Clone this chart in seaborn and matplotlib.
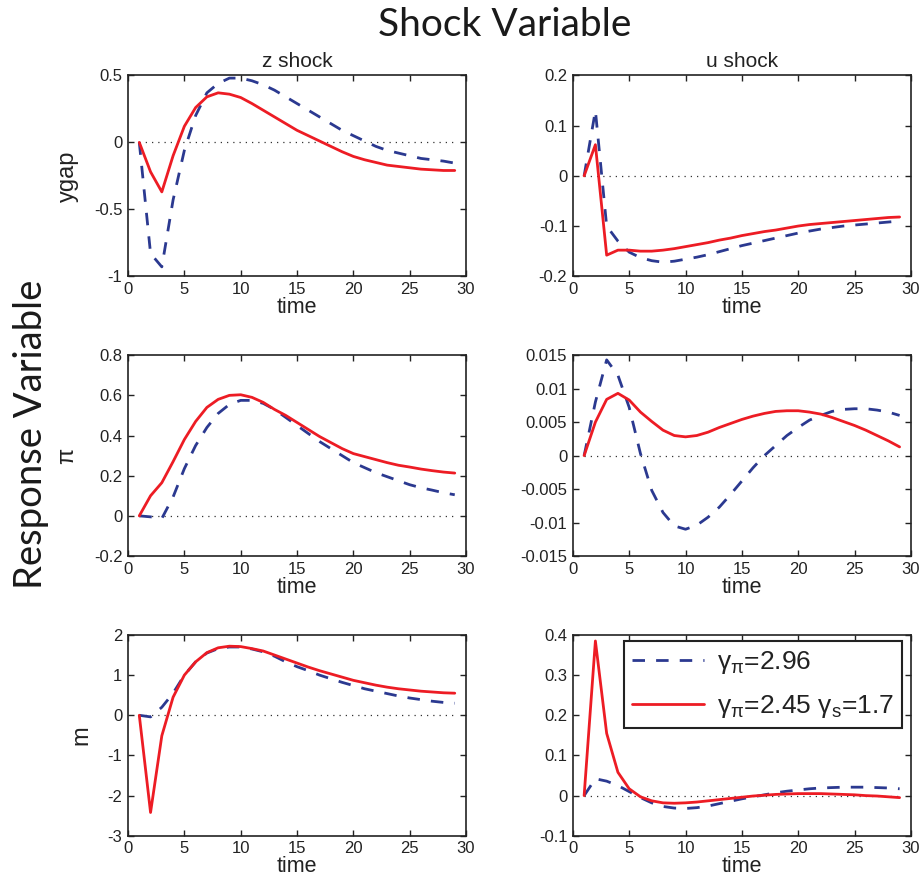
import matplotlib
matplotlib.use('Agg')
import matplotlib.pyplot as plt
import numpy as np
import pandas as pd
import seaborn as sns

time = list(range(1, 30))

# z shock
ygap_z_blue = [0, -0.83, -0.93, -0.43, -0.06, 0.20, 0.37, 0.44, 0.48, 0.48,
               0.46, 0.43, 0.39, 0.34, 0.29, 0.24, 0.19, 0.14, 0.09, 0.05,
               0.01, -0.03, -0.06, -0.08, -0.10, -0.12, -0.13, -0.14, -0.155]
ygap_z_red = [0, -0.22, -0.37, -0.10, 0.12, 0.26, 0.34, 0.37, 0.36, 0.335,
              0.29, 0.24, 0.19, 0.14, 0.09, 0.05, 0.01, -0.03, -0.07, -0.105,
              -0.13, -0.15, -0.17, -0.18, -0.19, -0.20, -0.205, -0.21, -0.21]
pi_z_blue = [0, -0.005, -0.013, 0.094, 0.235, 0.35, 0.44, 0.51, 0.555, 0.575,
             0.575, 0.56, 0.53, 0.49, 0.45, 0.41, 0.37, 0.335, 0.30, 0.265,
             0.24, 0.215, 0.195, 0.175, 0.155, 0.14, 0.128, 0.115, 0.105]
pi_z_red = [0, 0.10, 0.165, 0.27, 0.38, 0.47, 0.54, 0.58, 0.60, 0.603,
            0.59, 0.565, 0.53, 0.50, 0.465, 0.43, 0.395, 0.365, 0.335, 0.31,
            0.295, 0.28, 0.265, 0.252, 0.243, 0.233, 0.225, 0.218, 0.213]
m_z_blue = [0, -0.04, 0.20, 0.55, 1.0, 1.33, 1.55, 1.66, 1.70, 1.70,
            1.65, 1.58, 1.47, 1.33, 1.21, 1.11, 1.0, 0.91, 0.82, 0.74,
            0.66, 0.60, 0.54, 0.48, 0.43, 0.39, 0.35, 0.32, 0.30]
m_z_red = [0, -2.42, -0.51, 0.45, 1.0, 1.33, 1.56, 1.68, 1.72, 1.71,
           1.66, 1.60, 1.50, 1.40, 1.30, 1.20, 1.11, 1.03, 0.95, 0.87,
           0.81, 0.75, 0.70, 0.66, 0.63, 0.60, 0.58, 0.56, 0.55]

# u shock
ygap_u_blue = [0, 0.13, -0.10, -0.13, -0.152, -0.163, -0.169, -0.172, -0.170, -0.166,
               -0.162, -0.157, -0.151, -0.145, -0.139, -0.134, -0.129, -0.124, -0.119, -0.114,
               -0.110, -0.106, -0.103, -0.100, -0.098, -0.096, -0.094, -0.092, -0.090]
ygap_u_red = [0, 0.062, -0.158, -0.148, -0.148, -0.150, -0.150, -0.148, -0.145, -0.141,
              -0.137, -0.133, -0.128, -0.124, -0.119, -0.115, -0.111, -0.108, -0.104, -0.100,
              -0.097, -0.095, -0.093, -0.091, -0.089, -0.087, -0.085, -0.083, -0.082]
pi_u_blue = [0, 0.008, 0.0143, 0.012, 0.0072, 0.0003, -0.0052, -0.0085, -0.0105, -0.011,
             -0.0104, -0.0092, -0.0077, -0.0058, -0.0038, -0.0018, 0.0, 0.0015, 0.003, 0.0042,
             0.0053, 0.006, 0.0066, 0.0069, 0.007, 0.007, 0.0068, 0.0065, 0.006]
pi_u_red = [0, 0.005, 0.0084, 0.0093, 0.0083, 0.0065, 0.0051, 0.0038, 0.003, 0.0028,
            0.003, 0.0035, 0.0042, 0.0048, 0.0054, 0.0059, 0.0063, 0.0066, 0.0067, 0.0067,
            0.0065, 0.0062, 0.0057, 0.0051, 0.0045, 0.0038, 0.003, 0.0022, 0.0013]
m_u_blue = [0, 0.042, 0.036, 0.025, 0.010, -0.005, -0.018, -0.027, -0.031, -0.032,
            -0.030, -0.026, -0.020, -0.014, -0.008, -0.003, 0.002, 0.007, 0.011, 0.014,
            0.017, 0.019, 0.020, 0.021, 0.021, 0.021, 0.020, 0.019, 0.017]
m_u_red = [0, 0.385, 0.155, 0.058, 0.017, -0.003, -0.013, -0.018, -0.019, -0.018,
           -0.016, -0.013, -0.010, -0.007, -0.004, -0.001, 0.001, 0.003, 0.004, 0.005,
           0.005, 0.005, 0.004, 0.003, 0.002, 0.0, -0.001, -0.003, -0.005]

row_labels = ['ygap', 'π', 'm']
col_titles = ['z shock', 'u shock']
series_names = [r'$\gamma_\pi$=2.96', r'$\gamma_\pi$=2.45 $\gamma_s$=1.7']
panels = [[(ygap_z_blue, ygap_z_red), (ygap_u_blue, ygap_u_red)],
          [(pi_z_blue, pi_z_red), (pi_u_blue, pi_u_red)],
          [(m_z_blue, m_z_red), (m_u_blue, m_u_red)]]
yticks = [[[-1, -0.5, 0, 0.5], [-0.2, -0.1, 0, 0.1, 0.2]],
          [[-0.2, 0, 0.2, 0.4, 0.6, 0.8], [-0.015, -0.01, -0.005, 0, 0.005, 0.01, 0.015]],
          [[-3, -2, -1, 0, 1, 2], [-0.1, 0, 0.1, 0.2, 0.3, 0.4]]]
yticklabels = [[['-1', '-0.5', '0', '0.5'], ['-0.2', '-0.1', '0', '0.1', '0.2']],
               [['-0.2', '0', '0.2', '0.4', '0.6', '0.8'],
                ['-0.015', '-0.01', '-0.005', '0', '0.005', '0.01', '0.015']],
               [['-3', '-2', '-1', '0', '1', '2'], ['-0.1', '0', '0.1', '0.2', '0.3', '0.4']]]

BLUE = '#2b3990'
RED = '#ed1c24'

sns.set_theme(style='white')
plt.rcParams['font.family'] = ['Liberation Sans', 'DejaVu Sans']
plt.rcParams['mathtext.default'] = 'regular'
plt.rcParams['axes.edgecolor'] = '#222222'
plt.rcParams['axes.linewidth'] = 1.2
plt.rcParams['text.color'] = '#222222'
plt.rcParams['axes.labelcolor'] = '#222222'

fig = plt.figure(figsize=(9.21, 8.77), dpi=100)

lefts = [0.139, 0.622]
bottoms = [0.685, 0.366, 0.047]
w, h = 0.367, 0.229

for r in range(3):
    for c in range(2):
        ax = fig.add_axes([lefts[c], bottoms[r], w, h])
        blue, red = panels[r][c]
        df = pd.DataFrame({'time': time, 'blue': blue, 'red': red})
        ax.hlines(0, time[0], time[-1], colors='#333333', linestyles=(0, (1, 4)), lw=0.9)
        sns.lineplot(data=df, x='time', y='blue', ax=ax, color=BLUE, lw=2,
                     dashes=False, label=series_names[0], legend=False)
        ax.lines[-1].set_dashes((4.5, 4))
        sns.lineplot(data=df, x='time', y='red', ax=ax, color=RED, lw=2,
                     label=series_names[1], legend=False)
        ax.set_xlim(0, 30)
        ax.set_xticks(range(0, 31, 5))
        ax.set_ylim(yticks[r][c][0], yticks[r][c][-1])
        ax.set_yticks(yticks[r][c])
        ax.set_yticklabels(yticklabels[r][c])
        ax.tick_params(direction='in', length=4, width=1, top=True, right=True,
                       bottom=True, left=True, labelsize=12, pad=4, colors='#222222')
        ax.set_xlabel('time', fontsize=15.5, labelpad=0)
        if c == 0:
            ax.set_ylabel(row_labels[r], fontsize=17, labelpad=11)
        else:
            ax.set_ylabel('')
        if r == 0:
            ax.set_title(col_titles[c], fontsize=15, pad=6)
        if r == 2 and c == 1:
            leg = ax.legend(loc='upper right', bbox_to_anchor=(0.973, 0.97),
                            borderaxespad=0, fontsize=19, handlelength=2.7,
                            frameon=True, fancybox=False, borderpad=0.3,
                            labelspacing=0.65, handletextpad=0.5)
            leg.get_frame().set_edgecolor('#222222')
            leg.get_frame().set_linewidth(1.5)
            leg.get_frame().set_alpha(1)

fig.text(0.548, 0.972, 'Shock Variable', ha='center', va='center', fontsize=28,
         family=['Lato', 'DejaVu Sans'], color='#1a1a1a')
fig.text(0.034, 0.505, 'Response Variable', ha='center', va='center', fontsize=27.5,
         rotation=90, family=['Lato', 'DejaVu Sans'], color='#1a1a1a')

fig.savefig('out.png', dpi=100)
